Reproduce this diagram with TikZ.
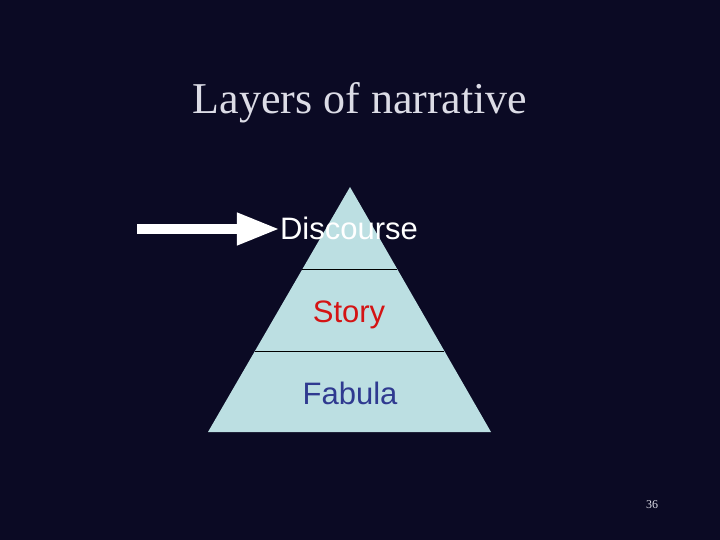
\documentclass[tikz,border=0pt]{standalone}
\usepackage{fontspec}
\setmainfont{Liberation Serif}
\setsansfont{Liberation Sans}
\usepackage{xcolor}
\usetikzlibrary{arrows.meta,positioning,calc}
\definecolor{slidebg}{HTML}{0B0A24}
\definecolor{pyrfill}{HTML}{BCDFE2}
\definecolor{titlegray}{HTML}{DCDCE6}
\definecolor{storyred}{HTML}{D41414}
\definecolor{fabblue}{HTML}{2F3A90}

\begin{document}
\begin{tikzpicture}[x=1pt, y=-1pt, every node/.style={inner sep=0pt}, layer/.style={font=\sffamily\fontsize{31}{31}\selectfont, anchor=base}, divider/.style={draw=black, line width=0.8pt}, arr/.style={white, line width=10pt, -{Triangle[length=43pt,width=30pt]}}]
\fill[slidebg] (0,0) rectangle (720,540);
\useasboundingbox (0,0) rectangle (720,540);
\node[font=\fontsize{44}{44}\selectfont, text=titlegray, anchor=base] (title) at (360,114) {Layers of narrative};
\coordinate (apex) at (350,187); \coordinate (baseL) at (208,432); \coordinate (baseR) at (491,432);
\fill[pyrfill] (apex) -- (baseR) -- (baseL) -- cycle;
\draw[divider] ($(apex)!0.3347!(baseL)$) -- ($(apex)!0.3347!(baseR)$);
\draw[divider] ($(apex)!0.6694!(baseL)$) -- ($(apex)!0.6694!(baseR)$);
\node[layer, text=white] (discourse) at (349,240) {Discourse};
\node[layer, text=storyred] (story) at (349,322) {Story};
\node[layer, text=fabblue] (fabula) at (350,404) {Fabula};
\coordinate (arrtail) at (137,229);
\draw[arr] (arrtail) -- (arrtail -| discourse.west);
\node[font=\fontsize{12}{12}\selectfont, text=titlegray] (pagenum) at (652,505) {36};
\end{tikzpicture}
\end{document}
